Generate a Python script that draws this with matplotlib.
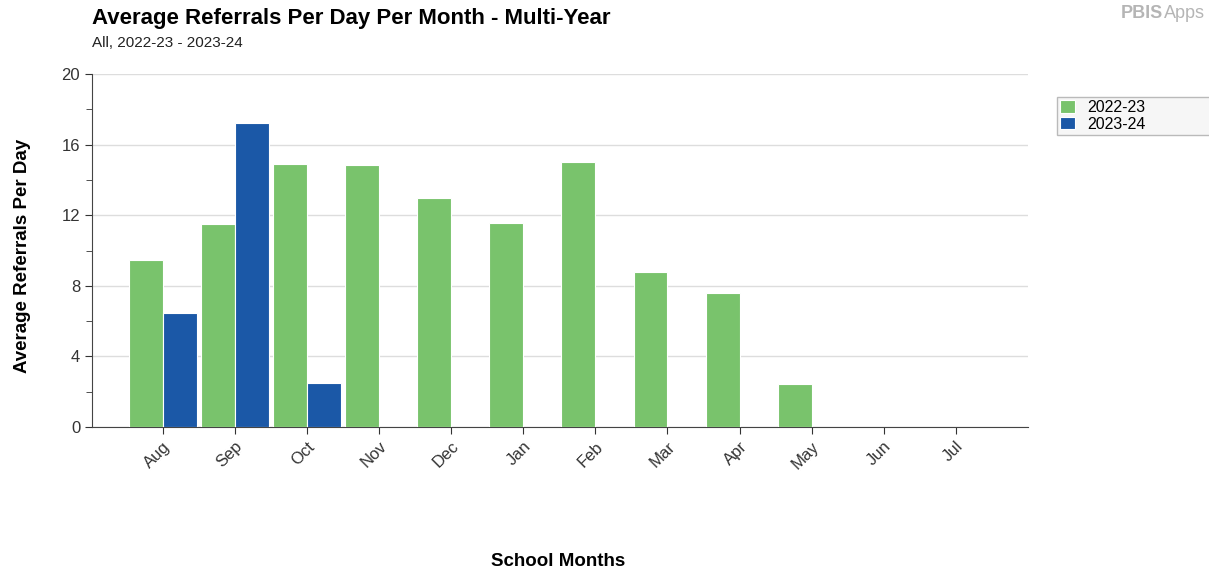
import matplotlib
matplotlib.use('Agg')
import matplotlib.pyplot as plt
import numpy as np

plt.rcParams['font.family'] = ['Liberation Sans', 'DejaVu Sans']

# Daten
months = ['Aug', 'Sep', 'Oct', 'Nov', 'Dec', 'Jan', 'Feb', 'Mar', 'Apr', 'May', 'Jun', 'Jul']
year_2223 = [9.46, 11.5, 14.9, 14.86, 12.97, 11.56, 15.02, 8.78, 7.6, 2.44, 0, 0]
year_2324 = [6.45, 17.2, 2.48, 0, 0, 0, 0, 0, 0, 0, 0, 0]

green = '#79c36c'
blue = '#1b58a7'

fig = plt.figure(figsize=(12.09, 5.72), dpi=100)
ax = fig.add_axes([0.0761, 0.2535, 0.7742, 0.6171])

x = np.arange(len(months))
w = 0.47
ax.bar(x - w / 2, year_2223, width=w, color=green, edgecolor='white', linewidth=0.8, label='2022-23', zorder=3)
ax.bar(x + w / 2, year_2324, width=w, color=blue, edgecolor='white', linewidth=0.8, label='2023-24', zorder=3)

ax.set_xlim(-0.98, 12)
ax.set_ylim(0, 20)
ax.set_yticks([0, 4, 8, 12, 16, 20])
ax.set_yticks([2, 6, 10, 14, 18], minor=True)
ax.set_xticks(x)
ax.set_xticklabels(months, rotation=45, ha='right', rotation_mode='anchor', fontsize=12, color='#333333')
ax.tick_params(axis='y', labelsize=12, colors='#333333')
ax.tick_params(axis='both', color='#333333', length=5)
ax.tick_params(axis='y', which='minor', length=4, color='#333333')
ax.grid(axis='y', color='#dddddd', linewidth=1, zorder=0)
for s in ['top', 'right']:
    ax.spines[s].set_visible(False)
ax.spines['left'].set_color('#444444')
ax.spines['bottom'].set_color('#444444')

fig.text(0.0185, 0.552, 'Average Referrals Per Day', fontsize=13.5, fontweight='bold',
         rotation=90, ha='center', va='center')
fig.text(0.4615, 0.003, 'School Months', fontsize=13.5, fontweight='bold', ha='center', va='bottom')

fig.text(0.0761, 0.949, 'Average Referrals Per Day Per Month - Multi-Year', fontsize=16, fontweight='bold', ha='left', va='bottom')
fig.text(0.0761, 0.912, 'All, 2022-23 - 2023-24', fontsize=11, ha='left', va='bottom', color='#222222')
fig.text(0.927, 0.962, 'PBIS', fontsize=13, fontweight='bold', color='#b5b5b5', ha='left', va='bottom')
fig.text(0.963, 0.962, 'Apps', fontsize=13, color='#b5b5b5', ha='left', va='bottom')

leg = ax.legend(loc='upper left', bbox_to_anchor=(1.031, 0.822, 0.17, 0.113), mode='expand', frameon=True,
                fancybox=False, fontsize=11.5, handlelength=0.9, handleheight=0.8, borderpad=0.2,
                labelspacing=0.1, handletextpad=0.8, borderaxespad=0)
leg.get_frame().set_facecolor('#f4f4f4')
leg.get_frame().set_edgecolor('#aaaaaa')

fig.savefig('out.png', dpi=100)
